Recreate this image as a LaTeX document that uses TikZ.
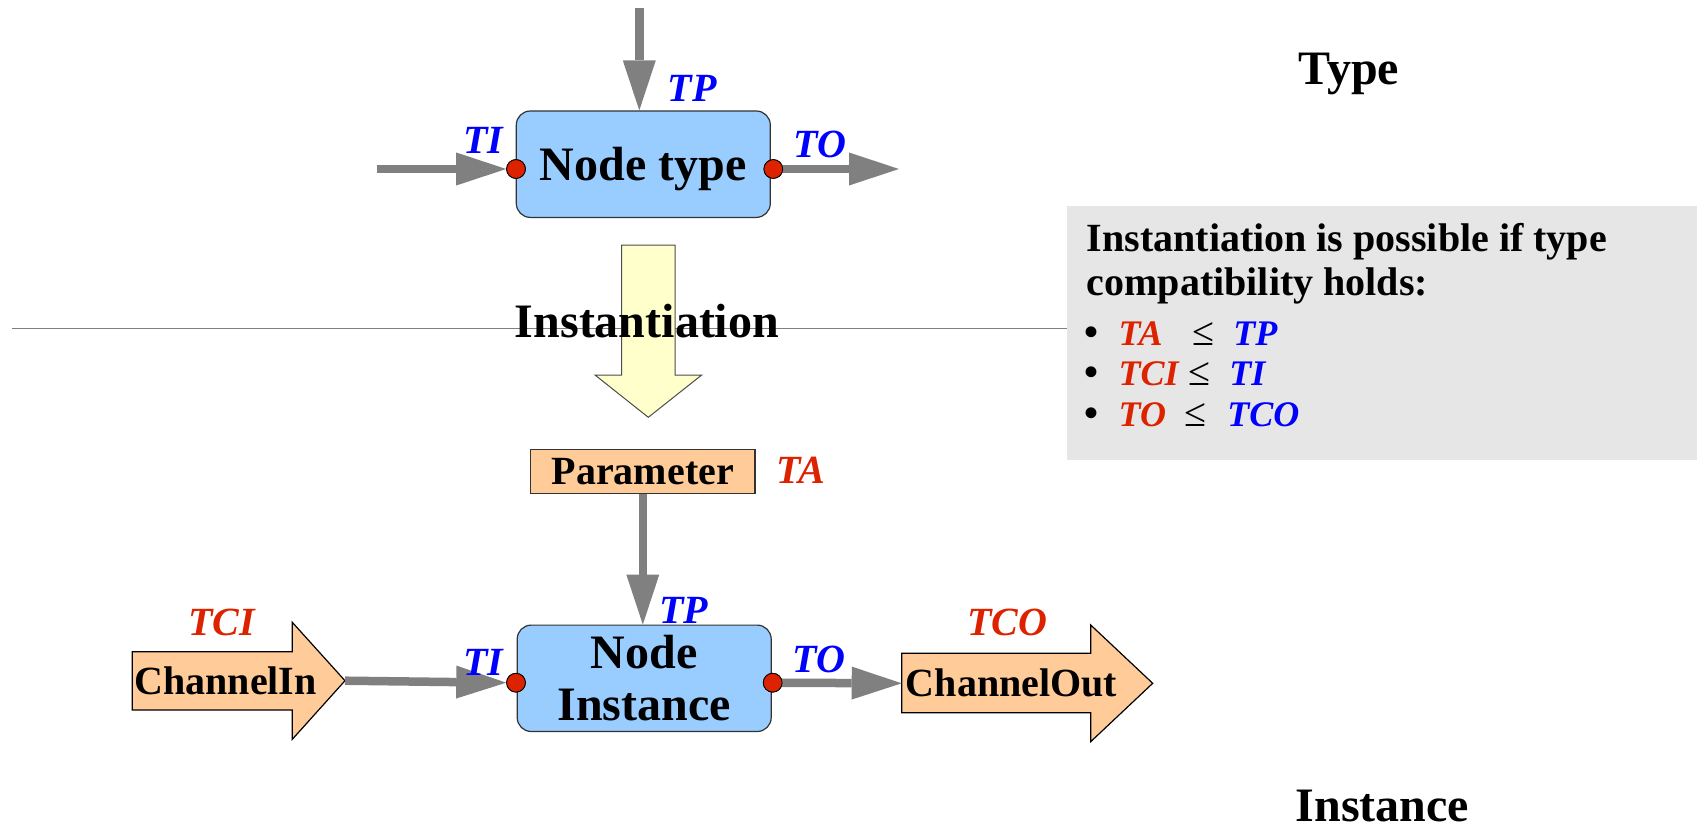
\documentclass[tikz,border=0pt]{standalone}
\usepackage{fontspec}
\setmainfont{Liberation Serif}
\usetikzlibrary{arrows.meta}

\definecolor{boxblue}{HTML}{99CCFF}
\definecolor{portred}{HTML}{DD2200}
\definecolor{flowgray}{HTML}{808080}
\definecolor{chanorange}{HTML}{FFCC99}
\definecolor{instyellow}{HTML}{FFFFCC}
\definecolor{notegray}{HTML}{E6E6E6}
\definecolor{labblue}{HTML}{0000FF}
\definecolor{labred}{HTML}{DD2200}

% one row of the compatibility list: red actual type, relation, blue formal type
\newcommand\cmprow[4]{%
  \makebox[16.9pt][l]{\textbullet}%
  \makebox[#2][l]{\fontsize{18}{22}\selectfont\color{labred}\bfseries\itshape #1}%
  \makebox[#3][l]{\mdseries\upshape ≤}%
  {\fontsize{18}{22}\selectfont\color{labblue}\bfseries\itshape #4}}

\tikzset{
  flow/.style={draw=flowgray, line width=4.25pt,
    -{Triangle[length=25pt,width=16.5pt,line width=0pt]}},
  nodebox/.style={draw=black!80, line width=0.6pt, fill=boxblue,
    rounded corners=7pt, minimum width=127pt, minimum height=53.2pt,
    inner sep=0pt, font=\fontsize{24}{26}\selectfont\bfseries},
  port/.style={circle, draw=black, line width=0.4pt, fill=portred,
    minimum size=9.4pt, inner sep=0pt},
  parambox/.style={draw=black!80, line width=0.6pt, fill=chanorange,
    minimum width=112.2pt, minimum height=22pt, inner sep=0pt,
    text height=17.35pt, text depth=4.65pt,
    font=\fontsize{20}{24}\selectfont\bfseries},
  chanshape/.style={draw=black, line width=0.6pt, fill=chanorange},
  chantext/.style={anchor=base west, inner sep=0pt,
    font=\fontsize{20}{24}\selectfont\bfseries},
  formallab/.style={anchor=base, inner sep=0pt, text=labblue,
    font=\fontsize{20}{24}\selectfont\bfseries\itshape},
  actuallab/.style={anchor=base, inner sep=0pt, text=labred,
    font=\fontsize{20}{24}\selectfont\bfseries\itshape},
  bigtext/.style={anchor=base, inner sep=0pt,
    font=\fontsize{24}{26}\selectfont\bfseries},
  notetext/.style={anchor=base west, inner sep=0pt,
    font=\fontsize{20}{24}\selectfont\bfseries},
  instarrow/.style={draw=black!70, line width=0.5pt, fill=instyellow},
  separator/.style={draw=flowgray, line width=0.75pt},
}

\begin{document}
\begin{tikzpicture}[x=0.5pt, y=-0.5pt]
\useasboundingbox (0,0) rectangle (1697,829);

% separator between the type level and the instance level
\node[fill=notegray, anchor=north west, inner sep=0pt,
      minimum width=315.05pt, minimum height=126.65pt] (note) at (1066.9,206) {};
\coordinate (sepStart) at (11.7,328.3);
\draw[separator] (sepStart) -- (sepStart -| note.west);

% compatibility conditions
\node[notetext] (cond1) at (1086.4,251.7) {Instantiation is possible if type};
\node[notetext] (cond2) at (1086.4,295) {compatibility holds:};
\node[notetext] (row1) at (1084.5,345) {\cmprow{TA}{36.9pt}{20.4pt}{TP}};
\node[notetext] (row2) at (1084.5,385) {\cmprow{TCI}{35pt}{20.35pt}{TI}};
\node[notetext] (row3) at (1084.5,426.7) {\cmprow{TO}{33pt}{21.35pt}{TCO}};

% level titles
\node[bigtext] (typeTitle) at (1349,84.4) {Type};
\node[bigtext] (instTitle) at (1382.5,821) {Instance};

% instantiation block arrow
\path[instarrow] (621.7,245) -- (675,245) -- (675,375) -- (701.7,375)
  -- (648.3,417.3) -- (595,375) -- (621.7,375) -- cycle;
\node[bigtext] (instLabel) at (647,337.3) {Instantiation};

% ---------- type level ----------
\node[nodebox, text height=34.5pt, text depth=18.65pt] (ntype) at (643.3,164.2) {Node type};
\coordinate (tpIn) at (639.3,8.3);
\coordinate (tiIn) at (376.7,169);
\coordinate (toOut) at (899,169);
\node[port] (ti1) at (516,169) {};
\node[port] (to1) at (773.3,169) {};
\draw[flow] (tpIn) -- (tpIn |- ntype.north);
\draw[flow] (tiIn) -- (ti1.west);
\draw[flow] (to1.center) -- (toOut);
\node[port] at (ti1) {};
\node[port] at (to1) {};

\node[formallab] (tpLab1) at (692,101.5) {TP};
\node[formallab] (tiLab1) at (483,153.3) {TI};
\node[formallab] (toLab1) at (820,157) {TO};

% ---------- instance level ----------
\node[parambox] (param) at (642.8,471.3) {Parameter};
\node[actuallab] (taLab) at (801,483) {TA};

\node[nodebox, align=center] (ninst) at (644.2,678.3) {Node\\Instance};

% channel arrows
\path[chanshape] (132.3,651.7) -- (292.3,651.7) -- (292.3,622.3) -- (345,680.7)
  -- (292.3,739.3) -- (292.3,710) -- (132.3,710) -- cycle;
\coordinate (chinTip) at (345,680.7);
\node[chantext] (chin) at (134,694) {ChannelIn};

\path[chanshape] (901.7,653.3) -- (1090.7,653.3) -- (1090.7,625) -- (1152.7,683.3)
  -- (1090.7,741.7) -- (1090.7,712.7) -- (901.7,712.7) -- cycle;
\coordinate (choutTail) at (901.7,683.3);
\node[chantext] (chout) at (905.5,696) {ChannelOut};

\node[port] (ti2) at (516,682.7) {};
\node[port] (to2) at (772.7,682.7) {};
\draw[flow] (param.south) -- (param.south |- ninst.north);
\draw[flow] (chinTip) -- (ti2.west);
\draw[flow] (to2.center) -- (choutTail);
\node[port] at (ti2) {};
\node[port] at (to2) {};

\node[formallab] (tpLab2) at (683.5,623) {TP};
\node[formallab] (tiLab2) at (483,675) {TI};
\node[formallab] (toLab2) at (819,672) {TO};
\node[actuallab] (tciLab) at (221.7,635) {TCI};
\node[actuallab] (tcoLab) at (1007.5,635) {TCO};
\end{tikzpicture}
\end{document}
